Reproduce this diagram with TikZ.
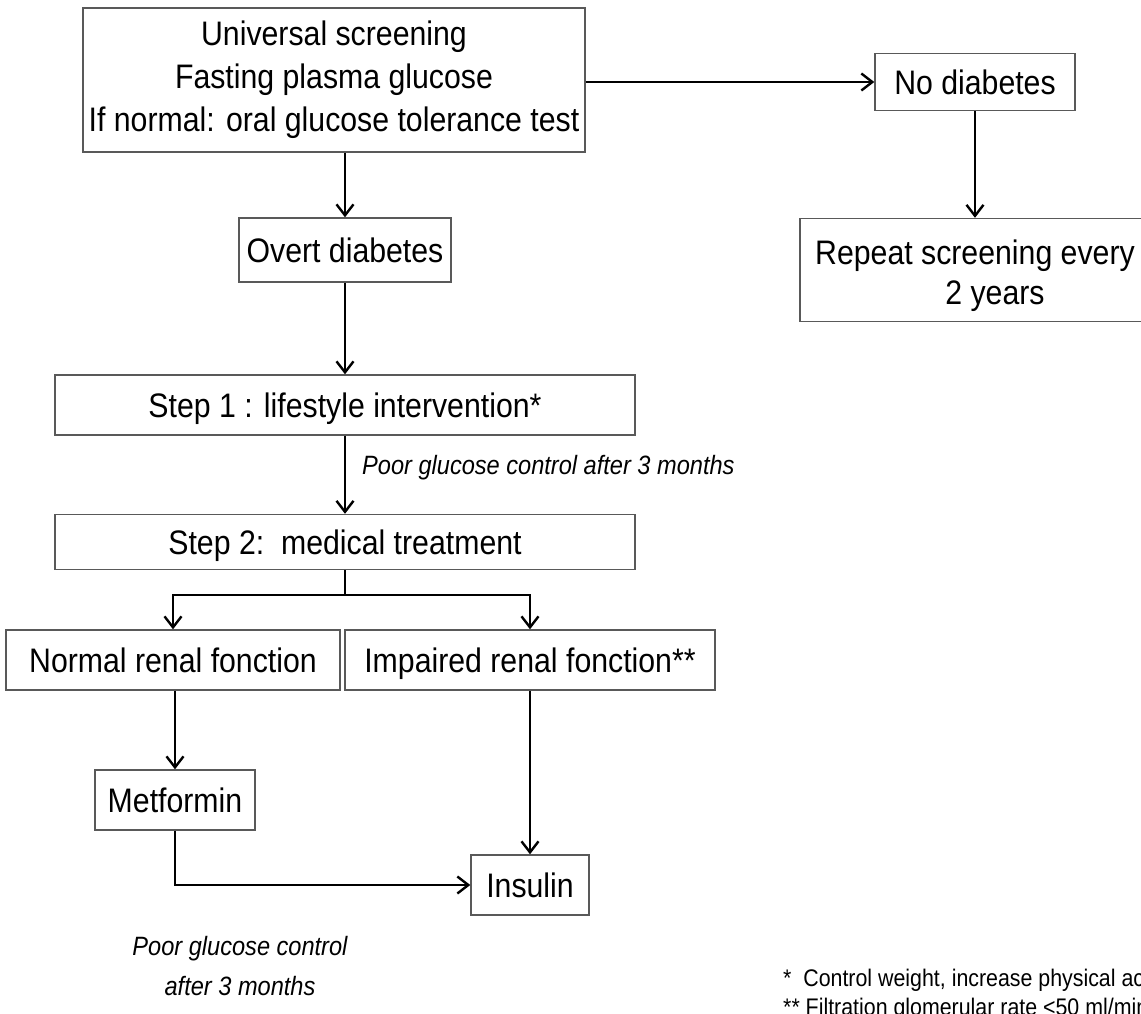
\documentclass[tikz,border=0pt]{standalone}
\usepackage{fontspec}
\setmainfont{Liberation Sans}[FakeStretch=0.89]
\usetikzlibrary{arrows.meta}

\begin{document}
\begin{tikzpicture}[x=1pt, y=-1pt,
        box/.style={draw=black!65, line width=1.4pt, inner sep=0pt, align=center,
            text height=27pt, text depth=3pt, font=\fontsize{34}{43}\selectfont},
        link/.style={line width=2.3pt, -{Straight Barb[length=11pt, width=17pt, line width=2.4pt]}},
        note/.style={font=\fontsize{26.5}{40}\selectfont\itshape, align=center, inner sep=0pt}]
        \useasboundingbox (0, 0) rectangle (1141, 1013);
        \clip (0, 0) rectangle (1141, 1013);

        \node[box, text height=, text depth=, minimum width=502, minimum height=144] (A) at (334, 80)
            {Universal screening\\Fasting plasma glucose\\If normal: oral glucose tolerance test};
        \node[box, minimum width=200, minimum height=57] (B) at (975, 82) {No diabetes};
        \node[box, text height=76pt, text depth=7pt, minimum width=350, minimum height=103,
            font=\fontsize{34}{40}\selectfont] (C) at (975, 270)
            {Repeat screening every\\\hspace*{40pt}2 years};
        \node[box, minimum width=212, minimum height=64] (D) at (345, 250) {Overt diabetes};
        \node[box, minimum width=580, minimum height=60] (E) at (345, 405) {Step 1 : lifestyle intervention*};
        \node[box, minimum width=580, minimum height=55] (F) at (345, 542) {Step 2:~~medical treatment};
        \node[box, minimum width=334, minimum height=60] (G) at (173, 660) {Normal renal fonction};
        \node[box, minimum width=370, minimum height=60] (H) at (530, 660) {Impaired renal fonction**};
        \node[box, minimum width=160, minimum height=60] (I) at (175, 800) {Metformin};
        \node[box, minimum width=118, minimum height=60] (J) at (530, 885) {Insulin};

        \node[note, anchor=west] (K) at (362, 468) {Poor glucose control after 3 months};
        \node[note] (L) at (240, 966) {Poor glucose control\\after 3 months};
        \node[note, anchor=north west, align=left, font=\fontsize{24}{29}\selectfont\upshape] (M) at (783, 969)
            {*~~Control weight, increase physical activity\\** Filtration glomerular rate <50 ml/min};

        \draw [link] (A.east |- B) -- (B.west);
        \draw [link] (B.south) -- (B.south |- C.north);
        \draw [link] (A.south -| D.north) -- (D.north);
        \draw [link] (D) -- (E);
        \draw [link] (E) -- (F);
        \draw [link] (F.south) -- ++(0, 25) -| (G.north);
        \draw [link] (F.south) -- ++(0, 25) -| (H.north);
        \draw [link] (G.south -| I.north) -- (I.north);
        \draw [link] (I.south) |- (J.west);
        \draw [link] (H) -- (J);
    \end{tikzpicture}
\end{document}
